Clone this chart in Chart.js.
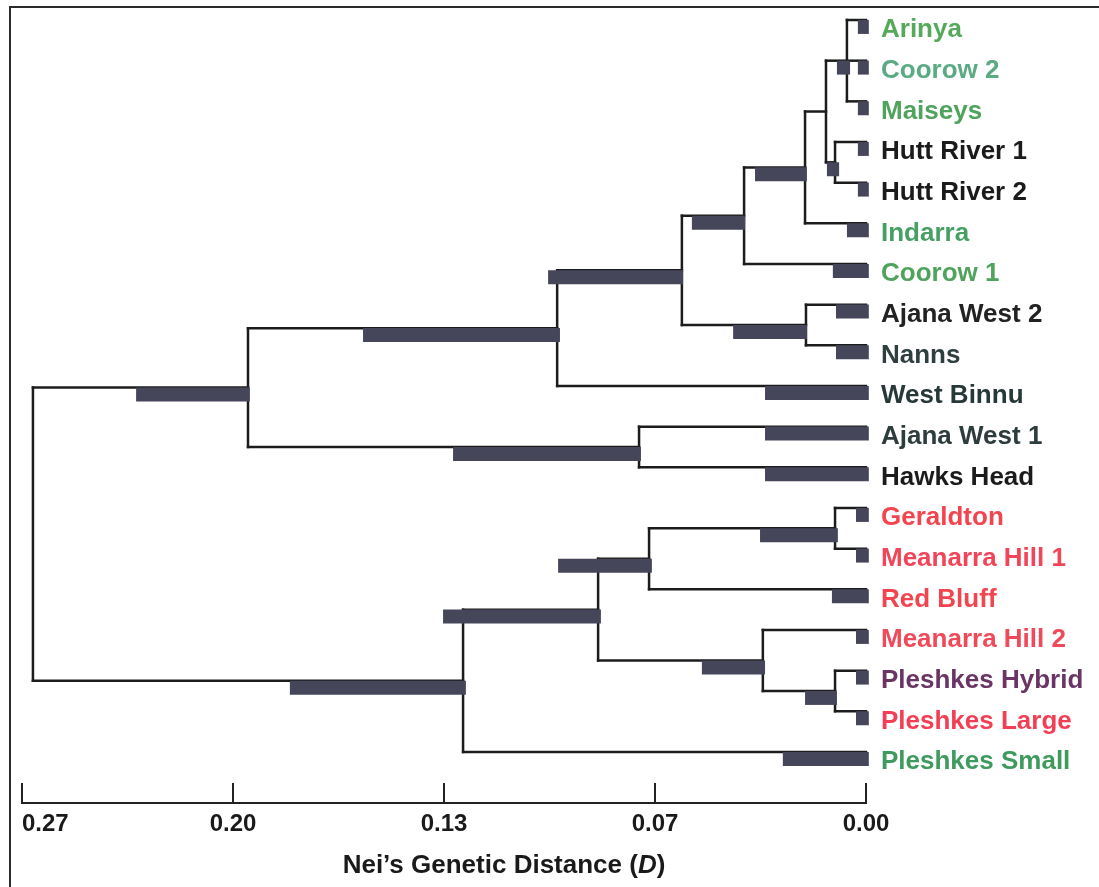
<!DOCTYPE html>
<html>
<head>
<meta charset="utf-8">
<title>Nei's genetic distance dendrogram</title>
<script src="https://cdn.jsdelivr.net/npm/chart.js@4.4.1/dist/chart.umd.min.js"></script>
<style>
  html, body { margin: 0; padding: 0; background: #fff; }
  canvas { display: block; }
</style>
</head>
<body>
<canvas id="tree" width="1099" height="887"></canvas>
<script>
// populations, top to bottom
const leafNames = ["Arinya", "Coorow 2", "Maiseys", "Hutt River 1", "Hutt River 2", "Indarra", "Coorow 1",
  "Ajana West 2", "Nanns", "West Binnu", "Ajana West 1", "Hawks Head", "Geraldton", "Meanarra Hill 1",
  "Red Bluff", "Meanarra Hill 2", "Pleshkes Hybrid", "Pleshkes Large", "Pleshkes Small"];
const leafColors = ["#55a95a", "#5aaa82", "#4fa35c", "#1b1b1b", "#1b1b1b", "#46a064", "#4fa35c",
  "#222222", "#2f3e3e", "#273838", "#2d3c3c", "#1b1b1b", "#f2454f", "#f2455a",
  "#f2454f", "#f04a5a", "#6a3565", "#f23f55", "#3f9a5e"];
// error bar at each tip: left end per population, common right end
const leafBarFrom = [0.0026, 0.0026, 0.0026, 0.0026, 0.0026, 0.0061, 0.0106,
  0.0096, 0.0096, 0.0323, 0.0323, 0.0323, 0.0032, 0.0032,
  0.0109, 0.0032, 0.0032, 0.0032, 0.0266];
const leafBarTo = -0.0009;

// clusters (children listed before parents)
const nodeNames = ["c1", "c2", "c3", "c4", "c5", "c6", "c7", "c8", "c9", "c10",
  "c11", "c12", "c13", "c14", "c15", "c16", "root"];
const nodeChildren = [
  ["Arinya", "Coorow 2", "Maiseys"],
  ["Hutt River 1", "Hutt River 2"],
  ["c1", "c2"],
  ["c3", "Indarra"],
  ["c4", "Coorow 1"],
  ["Ajana West 2", "Nanns"],
  ["c5", "c6"],
  ["c7", "West Binnu"],
  ["Ajana West 1", "Hawks Head"],
  ["c8", "c9"],
  ["Geraldton", "Meanarra Hill 1"],
  ["c11", "Red Bluff"],
  ["Pleshkes Hybrid", "Pleshkes Large"],
  ["Meanarra Hill 2", "c13"],
  ["c12", "c14"],
  ["c15", "Pleshkes Small"],
  ["c10", "c16"]
];
const nodeHeights = [0.0061, 0.0099, 0.0128, 0.0195, 0.0390, 0.0192, 0.0589, 0.0988, 0.0726, 0.1977,
  0.0099, 0.0694, 0.0099, 0.0330, 0.0857, 0.1289, 0.2665];
const nodeBarFrom = [0.0093, 0.0125, null, 0.0355, 0.0557, 0.0425, 0.1017, 0.1609, 0.1321, 0.2335,
  0.0339, 0.0985, 0.0195, 0.0525, 0.1353, 0.1843, null];
const nodeBarTo = [0.0051, 0.0086, null, 0.0189, 0.0387, 0.0189, 0.0585, 0.0979, 0.0720, 0.1971,
  0.0090, 0.0685, 0.0093, 0.0323, 0.0848, 0.1280, null];

// distance axis
const axisMax = 0.27;
const tickLabels = ["0.00", "0.07", "0.13", "0.20", "0.27"];

const FONT = "'Liberation Sans', Arial, sans-serif";
const LINE = "#1c1c1c";
const BAR = "#45465a";
const BAR_SHIFT = 0.17; // bars hang just under their branch

// tree layout: tips on integer rows, clusters halfway between outer children
const height = {}, row = {};
leafNames.forEach((n, i) => { height[n] = 0; row[n] = i; });
nodeNames.forEach((n, i) => {
  const ch = nodeChildren[i];
  height[n] = nodeHeights[i];
  row[n] = (row[ch[0]] + row[ch[ch.length - 1]]) / 2;
});

const datasets = [];
const branch = { borderColor: LINE, borderWidth: 2.5, borderCapStyle: "square", order: 1 };
const bar = { borderColor: BAR, borderWidth: 14, borderCapStyle: "butt", order: 0 };
function seg(x1, y1, x2, y2, style) {
  datasets.push(Object.assign({
    data: [{ x: x1, y: y1 }, { x: x2, y: y2 }],
    showLine: true, pointRadius: 0, clip: false
  }, style));
}

nodeNames.forEach((n, i) => {
  const ch = nodeChildren[i];
  seg(height[n], row[ch[0]], height[n], row[ch[ch.length - 1]], branch);
  ch.forEach(c => seg(height[n], row[c], height[c], row[c], branch));
  if (nodeBarFrom[i] !== null) {
    seg(nodeBarFrom[i], row[n] + BAR_SHIFT, nodeBarTo[i], row[n] + BAR_SHIFT, bar);
  }
});
leafNames.forEach((n, i) => seg(leafBarFrom[i], row[n] + BAR_SHIFT, leafBarTo, row[n] + BAR_SHIFT, bar));

const frame = {
  id: "frame",
  beforeDraw(chart) {
    const { ctx, width, height } = chart;
    ctx.save();
    ctx.fillStyle = "#fff";
    ctx.fillRect(0, 0, width, height);
    ctx.strokeStyle = "#2b2b2b";
    ctx.lineWidth = 2;
    ctx.beginPath();
    ctx.moveTo(10, height);
    ctx.lineTo(10, 7);
    ctx.lineTo(width, 7);
    ctx.stroke();
    ctx.restore();
  }
};

// axis title with italic D
const axisTitle = {
  id: "axisTitle",
  afterDraw(chart) {
    const { ctx, chartArea } = chart;
    const parts = [["Nei\u2019s Genetic Distance (", "bold"], ["D", "italic bold"], [")", "bold"]];
    const font = s => `${s} 26px ${FONT}`;
    ctx.save();
    ctx.fillStyle = "#1a1a1a";
    ctx.textBaseline = "middle";
    let total = 0;
    parts.forEach(p => { ctx.font = font(p[1]); total += ctx.measureText(p[0]).width; });
    let x = (chartArea.left + chartArea.right) / 2 + 60 - total / 2;
    const y = chart.height - 21;
    parts.forEach(p => {
      ctx.font = font(p[1]);
      ctx.fillText(p[0], x, y);
      x += ctx.measureText(p[0]).width;
    });
    ctx.restore();
  }
};

new Chart(document.getElementById("tree"), {
  type: "scatter",
  data: { datasets },
  options: {
    responsive: false,
    animation: false,
    layout: { padding: { left: 22, top: 7, right: 0, bottom: 0 } },
    plugins: { legend: { display: false }, tooltip: { enabled: false } },
    scales: {
      x: {
        type: "linear",
        min: 0,
        max: axisMax,
        reverse: true,
        position: "bottom",
        // first entry is a blank stand-in so "inner" alignment only left-aligns 0.27
        afterBuildTicks: s => {
          s.ticks = [{ value: 0 }].concat(tickLabels.map((_, i) => ({ value: axisMax * i / (tickLabels.length - 1) })));
        },
        afterFit: s => {
          s.height = 84;
          s.paddingLeft = 0;
          s.paddingRight = 0;
        },
        grid: { drawOnChartArea: false, drawTicks: true, tickLength: -20, color: "#222", lineWidth: 2 },
        border: { display: true, color: "#222", width: 2 },
        ticks: {
          align: "inner",
          autoSkip: false,
          maxRotation: 0,
          minRotation: 0,
          padding: 27,
          color: "#1a1a1a",
          font: { family: FONT, size: 24, weight: "bold" },
          callback: (v, i) => (i === 0 ? "" : tickLabels[i - 1])
        }
      },
      y: {
        type: "linear",
        min: -0.32,
        max: 19.254,
        reverse: true,
        position: "right",
        afterBuildTicks: s => { s.ticks = leafNames.map((_, i) => ({ value: i })); },
        // fixed label column; no extra room above/below for the tip names
        afterFit: s => {
          s.width = 233;
          s.paddingTop = 0;
          s.paddingBottom = 0;
        },
        grid: { display: false, drawTicks: false },
        border: { display: false },
        ticks: {
          autoSkip: false,
          padding: 15,
          labelOffset: 10,
          font: { family: FONT, size: 26, weight: "bold" },
          color: c => leafColors[c.index],
          callback: (v, i) => leafNames[i]
        }
      }
    }
  },
  plugins: [frame, axisTitle]
});
</script>
</body>
</html>
